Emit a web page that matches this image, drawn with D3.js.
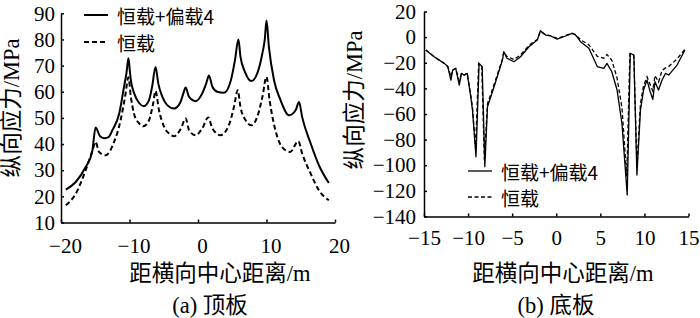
<!DOCTYPE html>
<html>
<head>
<meta charset="utf-8">
<script src="https://cdn.jsdelivr.net/npm/d3@7"></script>
<style>
  body { margin: 0; background: #fff; }
  svg { display: block; }
  .tick text { font-family: "Liberation Serif", serif; font-size: 21px; fill: #000; }
  .domain, .tick line { stroke: #000; stroke-width: 1.5px; }
  .title { font-family: "Liberation Serif", "Noto Sans CJK SC", serif; font-size: 22.5px; fill: #000; }
  .legend { font-family: "Noto Sans CJK SC", sans-serif; font-size: 19px; fill: #000; }
</style>
</head>
<body>
<div id="chart"></div>
<script>
// (a) top slab
const topSolidX = [-19.3, -17.85, -16.4, -15.45, -14.95, -14.3, -13.6, -13.0, -12.5, -11.5, -10.8, -10.45, -10.15, -9.95, -9.8, -9.3, -8.6, -7.9, -7.15, -6.7, -6.2, -5.8, -5.2, -4.5, -3.5, -2.55, -2.15, -1.8, -1.3, -0.35, 0.6, 1.2, 1.6, 2.1, 2.8, 3.8, 4.8, 5.4, 5.9, 6.2, 6.85, 7.8, 8.65, 9.4, 9.75, 10.0, 10.35, 11.1, 12.05, 13.3, 14.25, 14.75, 15.2, 16.45, 17.65, 19.1];
const topSolidY = [22.6, 25.5, 31.2, 37, 46.3, 43, 42.2, 42.8, 45.3, 51.7, 61.9, 67, 72.8, 68, 64.4, 59.3, 55.7, 54.5, 56.8, 61.9, 69.5, 63.2, 58, 54.9, 53.6, 56.1, 59.3, 61.6, 58, 56.4, 59.3, 63.2, 66.2, 61.9, 60, 59.6, 64.4, 72.1, 80, 73.4, 67.6, 64.1, 67, 74.7, 80, 87.2, 77.2, 64.4, 56.8, 51, 52.9, 56.1, 50.4, 40.2, 31.9, 25.1];
const topDashX = [-19.3, -17.85, -16.4, -15.4, -14.95, -14.45, -13.5, -12.25, -11.3, -10.65, -10.15, -9.8, -9.35, -8.6, -8.0, -7.15, -6.55, -6.2, -5.7, -4.95, -4.2, -3.5, -2.5, -1.8, -1.3, -0.35, 0.6, 1.5, 2.1, 3.3, 4.5, 5.25, 5.8, 6.2, 6.95, 7.8, 8.65, 9.4, 10.0, 10.45, 11.3, 12.25, 13.45, 14.65, 15.2, 16.45, 17.65, 19.1];
const topDashY = [16.6, 21, 30, 37.6, 40.8, 37, 35.7, 40.8, 49.1, 58, 65.5, 58, 51.7, 47.9, 46.8, 49.1, 55.5, 60.3, 53, 46.6, 44, 43, 45.9, 49.8, 45.3, 43.4, 45.9, 50.2, 45.9, 43.4, 47.2, 54.2, 60.6, 54.2, 49.1, 47.2, 50.4, 58, 65.7, 56.8, 45.3, 38.9, 37, 41.1, 36.4, 28.7, 22.3, 18.5];
const topXTicks = [-20, -10, 0, 10, 20];
const topYTicks = [10, 20, 30, 40, 50, 60, 70, 80, 90];

// (b) bottom slab
const botSolidX = [-14.8, -13.85, -12.7, -12.3, -11.95, -11.75, -11.4, -11.0, -10.75, -10.45, -10.1, -9.7, -9.5, -9.1, -8.75, -8.4, -8.1, -7.8, -7.05, -6.1, -5.95, -5.6, -4.8, -4.05, -3.1, -2.15, -1.8, -1.2, -0.65, 0.1, 0.85, 1.8, 2.2, 2.75, 3.7, 4.65, 5.4, 5.75, 6.3, 6.9, 7.45, 8.05, 8.4, 8.8, 9.15, 9.55, 9.9, 10.3, 10.65, 10.95, 11.2, 11.6, 12.0, 12.4, 12.75, 13.7, 14.6];
const botSolidY = [-10, -15.3, -20.5, -23, -33.5, -25.7, -24.4, -37.4, -28.3, -29.6, -28.3, -46.5, -57, -93.4, -20.5, -23, -101.2, -54.3, -38.7, -17.9, -11.4, -16.5, -19.2, -15.3, -7.5, -2.3, 5, 1.6, 0.9, -1.5, 0.3, 3, 1.6, -3.6, -8.7, -23, -24.4, -20.5, -27, -41.3, -67.3, -123.2, -12.6, -14, -107.6, -56.9, -41.3, -33.5, -42.6, -48.6, -34.8, -41.3, -33.5, -28.3, -29.6, -21.8, -10];
const botDashX = [-14.8, -13.85, -12.7, -12.3, -11.95, -11.75, -11.4, -11.0, -10.75, -10.45, -10.1, -9.7, -9.5, -9.15, -8.8, -8.45, -8.15, -7.8, -7.05, -6.1, -5.95, -5.6, -4.8, -4.05, -3.1, -2.15, -1.8, -1.2, -0.65, 0.1, 0.85, 1.8, 2.2, 2.75, 3.7, 4.65, 5.4, 5.75, 6.3, 6.9, 7.45, 8.0, 8.35, 8.8, 9.15, 9.55, 9.9, 10.3, 10.65, 10.95, 11.2, 11.6, 12.0, 12.4, 12.75, 13.7, 14.6];
const botDashY = [-10, -15.3, -20.5, -23, -31, -25.7, -24.4, -34, -28.3, -29.6, -28.3, -45, -55, -87, -20.5, -23, -96, -52, -37, -17, -11.4, -15, -17.5, -14, -6.5, -1.8, 4.5, 1.8, 1.2, -1, 0.8, 3, 2, -2, -6, -15, -16.5, -13.5, -18, -32, -55, -109, -13, -14.5, -101, -52, -38, -31, -37, -42, -30, -35, -26, -24, -23, -17, -9.5];
const botXTicks = [-15, -10, -5, 0, 5, 10, 15];
const botYTicks = [20, 0, -20, -40, -60, -80, -100, -120, -140];

const seriesNames = ["恒载+偏载4", "恒载"];
const yTitle = "纵向应力/MPa";
const xTitle = "距横向中心距离/m";

const svg = d3.select("#chart").append("svg").attr("width", 700).attr("height", 318);

function panel(cfg) {
    const x = d3.scaleLinear().domain(cfg.xDomain).range(cfg.xRange);
    const y = d3.scaleLinear().domain(cfg.yDomain).range(cfg.yRange);

    svg.append("g")
        .attr("transform", `translate(0,${cfg.yRange[0]})`)
        .call(d3.axisBottom(x).tickValues(cfg.xTicks).tickSizeInner(-3).tickSizeOuter(0).tickPadding(cfg.xPad))
        .call(g => g.selectAll("text").attr("dx", cfg.xdx));

    svg.append("g")
        .attr("transform", `translate(${cfg.xRange[0]},0)`)
        .call(d3.axisLeft(y).tickValues(cfg.yTicks).tickSizeInner(-3).tickSizeOuter(0).tickPadding(cfg.yPad));

    const line = d3.line().x(d => x(d[0])).y(d => y(d[1])).curve(cfg.curve);

    svg.append("path")
        .datum(d3.zip(cfg.solidX, cfg.solidY))
        .attr("fill", "none").attr("stroke", "#000").attr("stroke-width", cfg.lw)
        .attr("stroke-linejoin", "round")
        .attr("d", line);

    svg.append("path")
        .datum(d3.zip(cfg.dashX, cfg.dashY))
        .attr("fill", "none").attr("stroke", "#000").attr("stroke-width", cfg.lw)
        .attr("stroke-dasharray", cfg.dash)
        .attr("d", line);

    // legend
    seriesNames.forEach((name, i) => {
        const ly = cfg.legY[i];
        svg.append("line")
            .attr("x1", cfg.legX).attr("x2", cfg.legX + 24)
            .attr("y1", ly).attr("y2", ly)
            .attr("stroke", "#000").attr("stroke-width", cfg.lw)
            .attr("stroke-dasharray", i === 1 ? cfg.dash : null);
        svg.append("text").attr("class", "legend")
            .attr("x", cfg.legX + 33).attr("y", ly)
            .attr("dominant-baseline", "central")
            .text(name);
    });

    // titles
    svg.append("text").attr("class", "title")
        .attr("transform", `translate(${cfg.yTitlePos[0]},${cfg.yTitlePos[1]}) rotate(-90)`)
        .attr("text-anchor", "middle").attr("dominant-baseline", "central")
        .text(yTitle);
    svg.append("text").attr("class", "title")
        .attr("x", cfg.xTitleX).attr("y", 273.5)
        .attr("text-anchor", "middle").attr("dominant-baseline", "central")
        .text(xTitle);
    svg.append("text").attr("class", "title")
        .attr("x", cfg.capX).attr("y", 305)
        .attr("text-anchor", "middle").attr("dominant-baseline", "central")
        .text(cfg.caption);
}

panel({
    xDomain: [-20, 20], xRange: [61, 335],
    yDomain: [10, 90], yRange: [222.5, 13.3],
    xTicks: topXTicks, yTicks: topYTicks, xPad: 16, yPad: 6, xdx: 4,
    solidX: topSolidX, solidY: topSolidY, dashX: topDashX, dashY: topDashY,
    curve: d3.curveMonotoneX, lw: 2, dash: "5,3",
    legX: 84, legY: [15, 42],
    yTitlePos: [11, 108], xTitleX: 220, capX: 210, caption: "(a) 顶板"
});

panel({
    xDomain: [-15, 15], xRange: [424, 688.5],
    yDomain: [-140, 20], yRange: [216.5, 11.5],
    xTicks: botXTicks, yTicks: botYTicks, xPad: 14, yPad: 8, xdx: 0,
    solidX: botSolidX, solidY: botSolidY, dashX: botDashX, dashY: botDashY,
    curve: d3.curveLinear, lw: 1.3, dash: "4,2.5",
    legX: 468, legY: [171, 197],
    yTitlePos: [354, 100], xTitleX: 563, capX: 556, caption: "(b) 底板"
});
</script>
</body>
</html>
